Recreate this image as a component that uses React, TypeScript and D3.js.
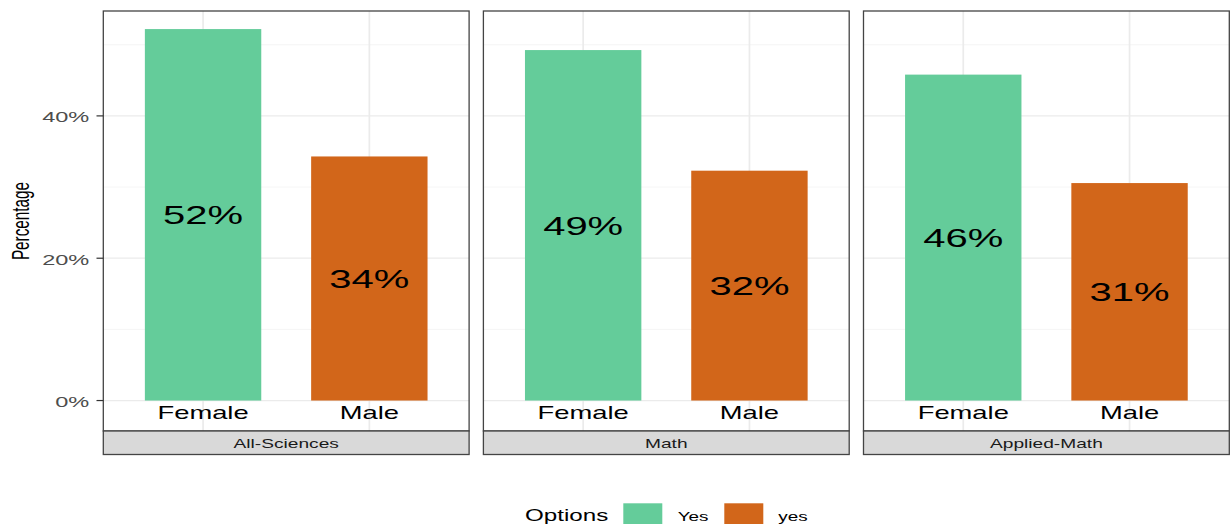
import React from "react";
import * as d3 from "d3";

const facets = ["All-Sciences", "Math", "Applied-Math"];
const categories = ["Female", "Male"];
const femaleValues = [52.2, 49.25, 45.8];
const maleValues = [34.3, 32.3, 30.56];
const yTicks = [0, 20, 40];
const yMinorTicks = [10, 30, 50];
const legendLabels = ["Yes", "yes"];
const colors = ["#64CC9A", "#D2661A"];

const W = 1230;
const H = 524;
const SX = 1.52;
const FONT = "'Liberation Sans', Arial, Helvetica, sans-serif";

export default function App() {
  const panelTop = 11;
  const panelBottom = 431;
  const stripBottom = 454.5;
  const fx = d3.scaleBand<string>().domain(facets).range([103.3, 1229.3]).paddingInner(0.0376);
  const pw = fx.bandwidth();
  const x = d3.scalePoint<string>().domain(categories).range([0, pw]).padding(0.6);
  const step = x.step();
  const barW = step * 0.7;
  const y = d3.scaleLinear().domain([-4.28, 54.74]).range([panelBottom, panelTop]);
  const fmt = (v: number) => `${Math.round(v)}%`;

  const sText = (
    tx: number,
    ty: number,
    txt: string,
    size: number,
    anchor: string,
    fill = "#000",
    key?: string
  ) => (
    <text
      key={key}
      transform={`translate(${tx},${ty}) scale(${SX},1)`}
      fontSize={size}
      textAnchor={anchor}
      fill={fill}
      fontFamily={FONT}
    >
      {txt}
    </text>
  );

  return (
    <div style={{ position: "absolute", left: 0, top: 0 }}>
      <svg width={W} height={H} style={{ display: "block" }}>
        <rect width={W} height={H} fill="#fff" />
        {facets.map((f, i) => {
          const px = fx(f)!;
          const vals = [femaleValues[i], maleValues[i]];
          return (
            <g key={f}>
              {yMinorTicks.map((t) => (
                <line key={"mn" + t} x1={px} x2={px + pw} y1={y(t)} y2={y(t)} stroke="#f2f2f2" strokeWidth={0.8} />
              ))}
              {yTicks.map((t) => (
                <line key={"mj" + t} x1={px} x2={px + pw} y1={y(t)} y2={y(t)} stroke="#ebebeb" strokeWidth={1.2} />
              ))}
              {categories.map((c) => (
                <line key={"v" + c} x1={px + x(c)!} x2={px + x(c)!} y1={panelTop} y2={panelBottom} stroke="#ebebeb" strokeWidth={1.7} />
              ))}
              {categories.map((c, j) => (
                <rect
                  key={"b" + c}
                  x={px + x(c)! - barW / 2}
                  y={y(vals[j])}
                  width={barW}
                  height={y(0) - y(vals[j])}
                  fill={colors[j]}
                />
              ))}
              {categories.map((c, j) =>
                sText(px + x(c)!, y(vals[j] / 2) + 9.2, fmt(vals[j]), 26.3, "middle", "#000", "l" + c)
              )}
              {categories.map((c) => sText(px + x(c)!, 419, c, 18, "middle", "#000", "c" + c))}
              <rect x={px} y={panelTop} width={pw} height={panelBottom - panelTop} fill="none" stroke="#444" strokeWidth={1.3} />
              <rect x={px} y={panelBottom} width={pw} height={stripBottom - panelBottom} fill="#d9d9d9" stroke="#444" strokeWidth={1.3} />
              {sText(px + pw / 2, 447.5, f, 12.6, "middle", "#1a1a1a")}
            </g>
          );
        })}
        {yTicks.map((t) => (
          <g key={"t" + t}>
            <line x1={96.5} x2={103.3} y1={y(t)} y2={y(t)} stroke="#333" strokeWidth={1.2} />
            {sText(89.3, y(t) + 6.5, `${t}%`, 15.5, "end", "#4d4d4d")}
          </g>
        ))}
        <text
          transform={`translate(28.6,221) scale(${SX},1) rotate(-90)`}
          fontSize={15.3}
          textAnchor="middle"
          fontFamily={FONT}
          fill="#000"
        >
          Percentage
        </text>
        {sText(525, 521, "Options", 15.9, "start")}
        {legendLabels.map((l, i) => {
          const kx = [623.3, 724.3][i];
          const tx = [677.7, 778.3][i];
          return (
            <g key={"lg" + i}>
              <rect x={kx} y={503.3} width={39} height={26} fill={colors[i]} />
              {sText(tx, 521, l, 12.4, "start")}
            </g>
          );
        })}
      </svg>
    </div>
  );
}
